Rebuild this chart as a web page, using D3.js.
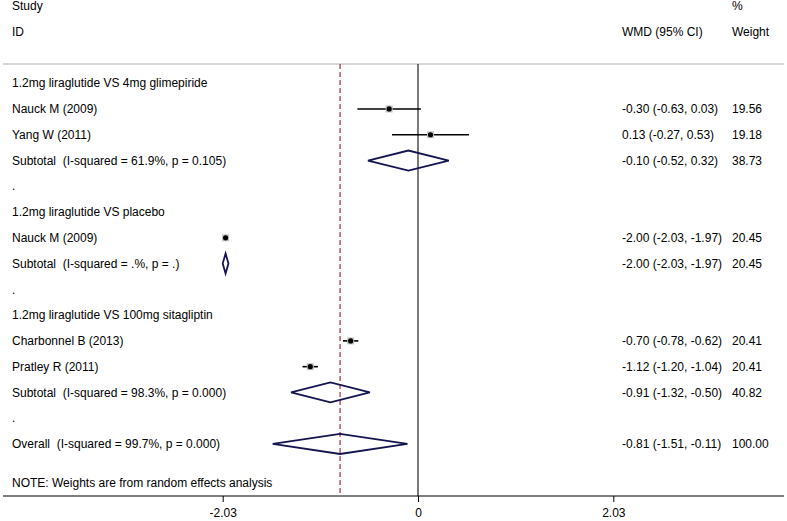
<!DOCTYPE html>
<meta charset="utf-8">
<style>
  body { margin: 0; background: #fff; }
  text { font: 12px "Liberation Sans", Arial, sans-serif; fill: #000; white-space: pre; }
</style>
<body>
<script src="https://d3js.org/d3.v7.min.js"></script>
<script>
// rows of the forest plot: type h = group header, s = study, d = subtotal/overall diamond, b = blank "."
var rowType  = ["h", "s", "s", "d", "b", "h", "s", "d", "b", "h", "s", "s", "d", "b", "d"];
var rowLabel = ["1.2mg liraglutide VS 4mg glimepiride", "Nauck M (2009)", "Yang W (2011)",
                "Subtotal  (I-squared = 61.9%, p = 0.105)", ".",
                "1.2mg liraglutide VS placebo", "Nauck M (2009)",
                "Subtotal  (I-squared = .%, p = .)", ".",
                "1.2mg liraglutide VS 100mg sitagliptin", "Charbonnel B (2013)", "Pratley R (2011)",
                "Subtotal  (I-squared = 98.3%, p = 0.000)", ".",
                "Overall  (I-squared = 99.7%, p = 0.000)"];
var est    = [null, -0.30, 0.13, -0.10, null, null, -2.00, -2.00, null, null, -0.70, -1.12, -0.91, null, -0.81];
var lower  = [null, -0.63, -0.27, -0.52, null, null, -2.03, -2.03, null, null, -0.78, -1.20, -1.32, null, -1.51];
var upper  = [null, 0.03, 0.53, 0.32, null, null, -1.97, -1.97, null, null, -0.62, -1.04, -0.50, null, -0.11];
var weight = [null, "19.56", "19.18", "38.73", null, null, "20.45", "20.45", null, null, "20.41", "20.41", "40.82", null, "100.00"];
var tickVals = [-2.03, 0, 2.03];
var overall = -0.81;

var W = 787, H = 521;
var svg = d3.select("body").append("svg").attr("width", W).attr("height", H);

// scales
var x = d3.scaleLinear().domain([-2.03, 2.03]).range([222.7, 613.3]);
var y = d3.scaleLinear().domain([0, 1]).range([83.2, 83.2 + 25.77]);
var axisY = 496, topY = 64;

// stata style numbers, plain hyphen for minus
function fmt(v) { return d3.format(".2f")(v).replace("\u2212", "-"); }

// header
svg.append("text").attr("x", 12).attr("y", y(-3)).attr("dy", "0.35em").text("Study");
svg.append("text").attr("x", 12).attr("y", y(-2)).attr("dy", "0.35em").text("ID");
svg.append("text").attr("x", 622).attr("y", y(-2)).attr("dy", "0.35em").text("WMD (95% CI)");
svg.append("text").attr("x", 732).attr("y", y(-3)).attr("dy", "0.35em").text("%");
svg.append("text").attr("x", 732).attr("y", y(-2)).attr("dy", "0.35em").text("Weight");

svg.append("line").attr("x1", 3).attr("x2", 784).attr("y1", topY).attr("y2", topY)
  .attr("stroke", "#c8c8c8").attr("stroke-width", 1.5);

// reference lines
svg.append("line").attr("x1", x(0)).attr("x2", x(0)).attr("y1", topY).attr("y2", axisY)
  .attr("stroke", "#222").attr("stroke-width", 1.2);
svg.append("line").attr("x1", x(overall)).attr("x2", x(overall)).attr("y1", topY).attr("y2", axisY)
  .attr("stroke", "#a3303a").attr("stroke-width", 1.2).attr("stroke-dasharray", "5,3");

var idx = d3.range(rowType.length);

// labels
svg.selectAll(".lab").data(idx).enter().append("text")
  .attr("x", 12).attr("y", function(i) { return y(i); }).attr("dy", "0.35em")
  .text(function(i) { return rowLabel[i]; });

var num = idx.filter(function(i) { return est[i] !== null; });
svg.selectAll(".ci").data(num).enter().append("text")
  .attr("x", 622).attr("y", function(i) { return y(i); }).attr("dy", "0.35em")
  .text(function(i) { return fmt(est[i]) + " (" + fmt(lower[i]) + ", " + fmt(upper[i]) + ")"; });
svg.selectAll(".wt").data(num).enter().append("text")
  .attr("x", 732).attr("y", function(i) { return y(i); }).attr("dy", "0.35em")
  .text(function(i) { return weight[i]; });

// studies
var studies = idx.filter(function(i) { return rowType[i] === "s"; });
svg.selectAll(".cil").data(studies).enter().append("line")
  .attr("x1", function(i) { return x(lower[i]); }).attr("x2", function(i) { return x(upper[i]); })
  .attr("y1", function(i) { return y(i); }).attr("y2", function(i) { return y(i); })
  .attr("stroke", "#000").attr("stroke-width", 1.6);
svg.selectAll(".box").data(studies).enter().append("rect")
  .attr("x", function(i) { return x(est[i]) - 3.5; }).attr("y", function(i) { return y(i) - 3.5; })
  .attr("width", 7).attr("height", 7).attr("fill", "#c4c4c4");
svg.selectAll(".pt").data(studies).enter().append("circle")
  .attr("cx", function(i) { return x(est[i]); }).attr("cy", function(i) { return y(i); })
  .attr("r", 2.6).attr("fill", "#000");

// diamonds
var dia = idx.filter(function(i) { return rowType[i] === "d"; });
svg.selectAll(".dia").data(dia).enter().append("path")
  .attr("d", function(i) {
    var c = y(i);
    return "M" + x(lower[i]) + "," + c + "L" + x(est[i]) + "," + (c - 10) +
      "L" + x(upper[i]) + "," + c + "L" + x(est[i]) + "," + (c + 10) + "Z";
  })
  .attr("fill", "none").attr("stroke", "#141450").attr("stroke-width", 1.8);

// note
svg.append("text").attr("x", 12).attr("y", y(15.5)).attr("dy", "0.35em")
  .text("NOTE: Weights are from random effects analysis");

// axis
var ax = svg.append("g").attr("transform", "translate(0," + axisY + ")")
  .call(d3.axisBottom(x).tickValues(tickVals).tickSize(6).tickSizeOuter(0)
    .tickFormat(function(d) { return d === 0 ? "0" : fmt(d); }));
ax.select(".domain").remove();
ax.selectAll("text").attr("dy", "0.71em").attr("y", 12)
  .style("font", "12px 'Liberation Sans', Arial, sans-serif");
ax.selectAll("line").attr("stroke", "#000");
svg.append("line").attr("x1", 3).attr("x2", 784).attr("y1", axisY).attr("y2", axisY)
  .attr("stroke", "#000").attr("stroke-width", 1.2);
</script>
</body>
